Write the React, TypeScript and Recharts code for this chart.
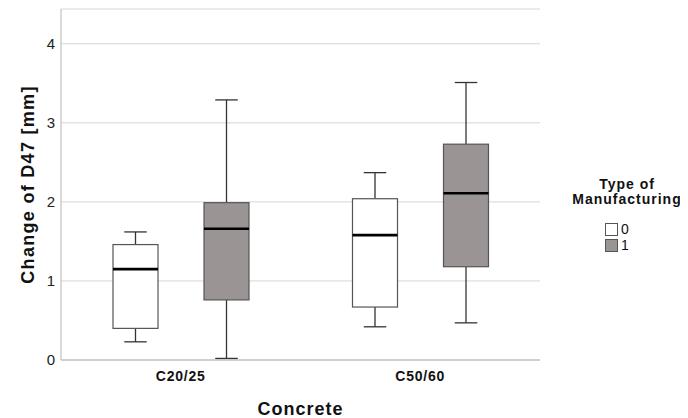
import React from "react"
import { ComposedChart, Bar, XAxis, YAxis, CartesianGrid } from "recharts"

const categories = ["C20/25", "C50/60"]

// Type of manufacturing 0
const type0Min = [0.23, 0.42]
const type0Q1 = [0.4, 0.67]
const type0Median = [1.15, 1.58]
const type0Q3 = [1.46, 2.04]
const type0Max = [1.62, 2.37]

// Type of manufacturing 1
const type1Min = [0.02, 0.47]
const type1Q1 = [0.76, 1.18]
const type1Median = [1.66, 2.11]
const type1Q3 = [1.99, 2.73]
const type1Max = [3.29, 3.51]

const yTicks = [0, 1, 2, 3, 4]
const legendItems = ["0", "1"]

const FONT = '"Liberation Sans", Arial, sans-serif'
const FILLS = ["#ffffff", "#9b9494"]

type Stats = { min: number; q1: number; median: number; q3: number; max: number }

const data = categories.map((category, i) => ({
  category,
  t0: { min: type0Min[i], q1: type0Q1[i], median: type0Median[i], q3: type0Q3[i], max: type0Max[i] },
  t1: { min: type1Min[i], q1: type1Q1[i], median: type1Median[i], q3: type1Q3[i], max: type1Max[i] },
}))

function BoxShape(props: any) {
  const { x, y, width, height, payload, seriesKey, fillColor } = props
  const s: Stats = payload[seriesKey]
  const toY = (v: number) => y + (height * (s.max - v)) / (s.max - s.min)
  const cx = x + width / 2
  const cap = width / 4
  const top = toY(s.q3)
  const bottom = toY(s.q1)
  return (
    <g>
      <line x1={cx} x2={cx} y1={toY(s.max)} y2={top} stroke="#333" strokeWidth={1.3} />
      <line x1={cx} x2={cx} y1={bottom} y2={toY(s.min)} stroke="#333" strokeWidth={1.3} />
      <line x1={cx - cap} x2={cx + cap} y1={toY(s.max)} y2={toY(s.max)} stroke="#333" strokeWidth={1.3} />
      <line x1={cx - cap} x2={cx + cap} y1={toY(s.min)} y2={toY(s.min)} stroke="#333" strokeWidth={1.3} />
      <rect x={x} y={top} width={width} height={bottom - top} fill={fillColor} stroke="#555" strokeWidth={1.2} />
      <line x1={x} x2={x + width} y1={toY(s.median)} y2={toY(s.median)} stroke="#000" strokeWidth={2.6} />
    </g>
  )
}

export default function App() {
  return (
    <div style={{ position: "relative", width: 672, height: 410, fontFamily: FONT }}>
      <ComposedChart
        width={672}
        height={410}
        data={data}
        margin={{ top: 1, right: 140, bottom: 0, left: 0 }}
        barSize={45}
        barGap={46}
      >
        <CartesianGrid vertical={false} stroke="#d6d6d6" />
        <XAxis
          dataKey="category"
          height={58}
          tickLine={false}
          tickSize={0}
          tickMargin={11}
          axisLine={{ stroke: "#b5b5b5" }}
          tick={{ fill: "#111", fontSize: 14, fontWeight: "bold", fontFamily: FONT, letterSpacing: 0.8 }}
          label={{
            value: "Concrete",
            position: "insideBottom",
            offset: 3,
            style: { fill: "#111", fontSize: 18, fontWeight: "bold", fontFamily: FONT, letterSpacing: 1 },
          }}
        />
        <YAxis
          width={53}
          domain={[0, 4.44]}
          ticks={yTicks}
          tickLine={false}
          tickSize={0}
          tickMargin={6}
          axisLine={{ stroke: "#b5b5b5" }}
          tick={{ fill: "#222", fontSize: 15, fontFamily: FONT }}
          label={{
            value: "Change of D47 [mm]",
            angle: -90,
            position: "insideLeft",
            offset: 20,
            style: { textAnchor: "middle", fill: "#111", fontSize: 18, fontWeight: "bold", fontFamily: FONT, letterSpacing: 1.3 },
          }}
        />
        <Bar
          dataKey={(d: any) => [d.t0.min, d.t0.max]}
          isAnimationActive={false}
          shape={(p: any) => <BoxShape {...p} seriesKey="t0" fillColor={FILLS[0]} />}
        />
        <Bar
          dataKey={(d: any) => [d.t1.min, d.t1.max]}
          isAnimationActive={false}
          shape={(p: any) => <BoxShape {...p} seriesKey="t1" fillColor={FILLS[1]} />}
        />
      </ComposedChart>
      <div
        style={{
          position: "absolute",
          left: 549,
          top: 169,
          width: 140,
          textAlign: "center",
          fontSize: 14,
          fontWeight: "bold",
          lineHeight: "15px",
          color: "#111",
          letterSpacing: 1,
        }}
      >
        <div>Type of</div>
        <div>Manufacturing</div>
      </div>
      {legendItems.map((label, i) => (
        <div
          key={label}
          style={{ position: "absolute", left: 597, top: 213 + i * 16, display: "flex", alignItems: "center", height: 16 }}
        >
          <div style={{ width: 11, height: 11, background: FILLS[i], border: "1px solid #555" }} />
          <span style={{ marginLeft: 3, fontSize: 14, color: "#111", lineHeight: "16px" }}>{label}</span>
        </div>
      ))}
    </div>
  )
}
